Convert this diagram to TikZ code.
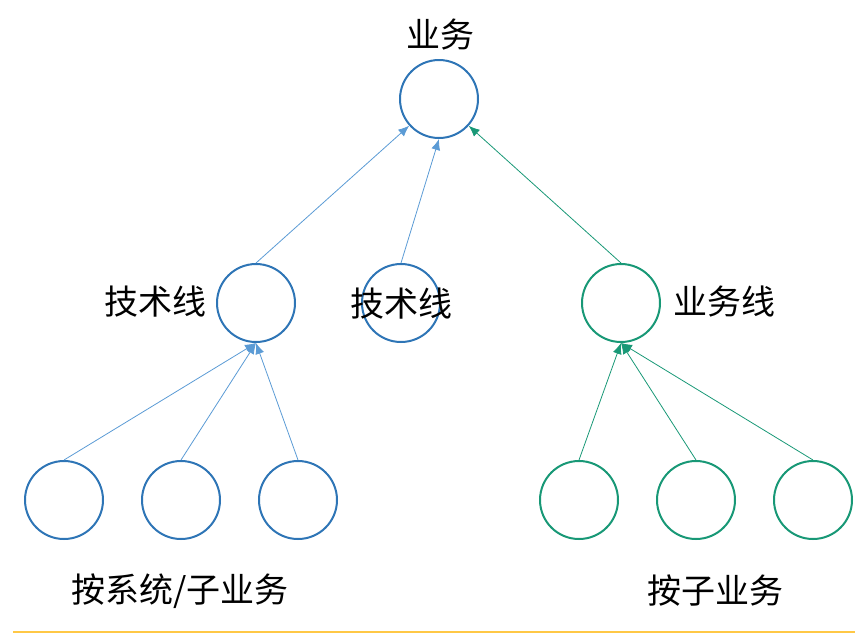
\documentclass[tikz,border=0pt]{standalone}
\usepackage{fontspec}
\setmainfont{Noto Sans CJK SC}
\usetikzlibrary{arrows.meta}
\definecolor{lineblue}{RGB}{46,117,182}
\definecolor{arrowblue}{RGB}{91,155,213}
\definecolor{linegreen}{RGB}{24,152,118}
\definecolor{baseyellow}{RGB}{255,200,70}
\tikzset{
    bluenode/.style = {circle, draw=lineblue, line width=2pt, minimum size=78pt, inner sep=0pt},
    greennode/.style = {circle, draw=linegreen, line width=2pt, minimum size=78pt, inner sep=0pt},
    label/.style = {font=\fontsize{34}{40}\selectfont, inner sep=0pt},
    bluearrow/.style = {draw=arrowblue, line width=0.8pt, -{Latex[length=11pt,width=9pt]}},
    greenarrow/.style = {draw=linegreen, line width=0.8pt, -{Latex[length=11pt,width=9pt]}}
}

\begin{document}
\begin{tikzpicture}[x=1pt, y=-1pt]
	\useasboundingbox (0,0) rectangle (860,638);

	\node[bluenode] (biz) at (439, 99){};
	\node[bluenode] (techA) at (256, 303){};
	\node[bluenode] (techB) at (401, 303){};
	\node[greennode] (bizline) at (621, 303){};

	\node[bluenode] (s1) at (64, 500){};
	\node[bluenode] (s2) at (181, 500){};
	\node[bluenode] (s3) at (298, 500){};
	\node[greennode] (sub1) at (579, 500){};
	\node[greennode] (sub2) at (696, 500){};
	\node[greennode] (sub3) at (813, 500){};

	\node[label] (bizText) at (440, 35){业务};
	\node[label] (techAText) at (155, 302){技术线};
	\node[label] (techBText) at (401, 304){技术线};
	\node[label] (bizlineText) at (724, 302){业务线};
	\node[label] (sysText) at (180, 591){按系统/子业务};
	\node[label] (subText) at (715, 591){按子业务};

	\draw[bluearrow] (techA.north) -- (biz);
	\draw[bluearrow] (techB.north) -- (biz.south);
	\draw[greenarrow] (bizline.north) -- (biz);

	\draw[bluearrow] (s1.north) -- (techA.south);
	\draw[bluearrow] (s2.north) -- (techA.south);
	\draw[bluearrow] (s3.north) -- (techA.south);
	\draw[greenarrow] (sub1.north) -- (bizline.south);
	\draw[greenarrow] (sub2.north) -- (bizline.south);
	\draw[greenarrow] (sub3.north) -- (bizline.south);

	\draw[baseyellow, line width=2pt] (13, 632) -- (855, 632);
\end{tikzpicture}
\end{document}
